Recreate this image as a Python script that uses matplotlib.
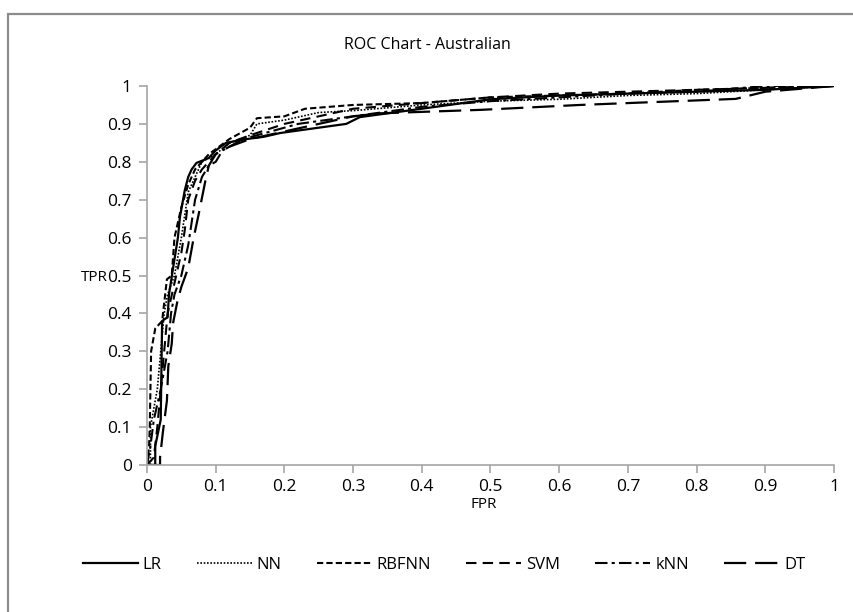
import matplotlib
matplotlib.use("Agg")
import matplotlib.pyplot as plt
from matplotlib.patches import Rectangle

plt.rcParams['font.family'] = ['Open Sans', 'DejaVu Sans']

series_names = ["LR", "NN", "RBFNN", "SVM", "kNN", "DT"]

lr_fpr = [0, 0.012, 0.012, 0.02, 0.022, 0.03, 0.032, 0.038, 0.045, 0.048, 0.055, 0.06, 0.065, 0.072, 0.09, 0.1, 0.115, 0.145, 0.17, 0.194, 0.23, 0.29, 0.31, 0.4, 0.5, 0.6, 0.7, 0.8, 0.9, 1.0]
lr_tpr = [0, 0, 0.05, 0.12, 0.38, 0.39, 0.45, 0.52, 0.6, 0.655, 0.725, 0.76, 0.78, 0.797, 0.81, 0.83, 0.85, 0.86, 0.866, 0.876, 0.885, 0.9, 0.918, 0.94, 0.965, 0.975, 0.98, 0.985, 0.99, 1.0]

nn_fpr = [0, 0.005, 0.005, 0.01, 0.015, 0.02, 0.025, 0.03, 0.04, 0.05, 0.055, 0.06, 0.07, 0.08, 0.1, 0.12, 0.15, 0.16, 0.2, 0.25, 0.3, 0.4, 0.5, 0.6, 0.7, 0.8, 0.9, 1.0]
nn_tpr = [0, 0, 0.1, 0.15, 0.2, 0.3, 0.4, 0.45, 0.5, 0.6, 0.66, 0.72, 0.76, 0.8, 0.82, 0.85, 0.87, 0.9, 0.91, 0.93, 0.935, 0.95, 0.96, 0.965, 0.975, 0.98, 0.99, 1.0]

rbf_fpr = [0, 0.003, 0.004, 0.006, 0.012, 0.022, 0.029, 0.036, 0.04, 0.05, 0.06, 0.07, 0.09, 0.12, 0.15, 0.16, 0.2, 0.23, 0.3, 0.4, 0.5, 0.6, 0.7, 0.8, 0.9, 1.0]
rbf_tpr = [0, 0.05, 0.1, 0.3, 0.36, 0.38, 0.49, 0.5, 0.6, 0.68, 0.74, 0.78, 0.82, 0.86, 0.89, 0.915, 0.92, 0.94, 0.95, 0.955, 0.97, 0.975, 0.98, 0.99, 0.995, 1.0]

svm_fpr = [0, 0.01, 0.015, 0.02, 0.025, 0.03, 0.04, 0.05, 0.055, 0.06, 0.07, 0.08, 0.1, 0.12, 0.15, 0.2, 0.25, 0.3, 0.4, 0.5, 0.6, 0.7, 0.8, 0.9, 1.0]
svm_tpr = [0, 0.02, 0.1, 0.2, 0.3, 0.4, 0.48, 0.56, 0.62, 0.7, 0.75, 0.78, 0.82, 0.85, 0.87, 0.9, 0.92, 0.94, 0.955, 0.97, 0.98, 0.985, 0.99, 0.995, 1.0]

knn_fpr = [0, 0.005, 0.01, 0.02, 0.03, 0.035, 0.04, 0.05, 0.06, 0.065, 0.07, 0.08, 0.09, 0.1, 0.11, 0.14, 0.18, 0.22, 0.3, 0.4, 0.5, 0.6, 0.7, 0.8, 0.9, 1.0]
knn_tpr = [0, 0.05, 0.12, 0.2, 0.3, 0.4, 0.45, 0.5, 0.58, 0.64, 0.7, 0.76, 0.79, 0.8, 0.83, 0.86, 0.88, 0.9, 0.92, 0.945, 0.96, 0.97, 0.98, 0.985, 1.0, 1.0]

dt_fpr = [0, 0.019, 0.019, 0.023, 0.029, 0.031, 0.036, 0.038, 0.044, 0.05, 0.06, 0.068, 0.075, 0.085, 0.09, 0.1, 0.12, 0.15, 0.2, 0.25, 0.3, 0.34, 0.485, 0.63, 0.857, 0.9, 1.0]
dt_tpr = [0, 0, 0.02, 0.085, 0.17, 0.26, 0.32, 0.375, 0.43, 0.47, 0.52, 0.6, 0.66, 0.75, 0.79, 0.82, 0.84, 0.86, 0.88, 0.9, 0.92, 0.928, 0.937, 0.95, 0.966, 0.985, 1.0]

x_ticks = [0, 0.1, 0.2, 0.3, 0.4, 0.5, 0.6, 0.7, 0.8, 0.9, 1]
y_ticks = [0, 0.1, 0.2, 0.3, 0.4, 0.5, 0.6, 0.7, 0.8, 0.9, 1]
tick_labels = ["0", "0.1", "0.2", "0.3", "0.4", "0.5", "0.6", "0.7", "0.8", "0.9", "1"]

styles = [
    dict(linestyle='-', lw=1.6),
    dict(linestyle=(0, (1, 1)), lw=1.2),
    dict(linestyle=(0, (3, 1.5)), lw=1.5),
    dict(linestyle=(0, (5, 3)), lw=1.5),
    dict(linestyle=(0, (6, 2, 1.5, 2)), lw=1.5),
    dict(linestyle=(0, (10, 4)), lw=1.6),
]
data = [(lr_fpr, lr_tpr), (nn_fpr, nn_tpr), (rbf_fpr, rbf_tpr),
        (svm_fpr, svm_tpr), (knn_fpr, knn_tpr), (dt_fpr, dt_tpr)]

fig = plt.figure(figsize=(8.54, 6.12), dpi=100)
ax = fig.add_axes([147/854, 1-465/612, (834-147)/854, (465-86)/612])

handles = []
for name, (xs, ys), st in zip(series_names, data, styles):
    h, = ax.plot(xs, ys, color='black', label=name, **st)
    handles.append(h)

ax.set_xlim(0, 1)
ax.set_ylim(0, 1)
ax.set_xticks(x_ticks)
ax.set_xticklabels(tick_labels)
ax.set_yticks(y_ticks)
ax.set_yticklabels(tick_labels)
for s in ['top', 'right']:
    ax.spines[s].set_visible(False)
for s in ['left', 'bottom']:
    ax.spines[s].set_color('#a6a6a6')
    ax.spines[s].set_linewidth(1.2)
ax.tick_params(axis='both', colors='#a6a6a6', labelcolor='black', length=6, width=1.2, labelsize=12.5)
ax.tick_params(axis='x', pad=4)
ax.tick_params(axis='y', pad=5)

fig.text(484/854, 1-504/612, "FPR", ha='center', va='center', fontsize=11)
fig.text(108/854, 1-278/612, "TPR", ha='right', va='center', fontsize=11)
fig.text(427/854, 1-45/612, "ROC Chart - Australian", ha='center', va='center', fontsize=11.5)

fig.legend(handles=handles, loc='center', bbox_to_anchor=(444/854, 1-565/612), ncol=6,
           frameon=False, handlelength=3.3, handletextpad=0.3, columnspacing=2.1, fontsize=12)

fig.patches.append(Rectangle((8/854, -0.1), 2, (612-14)/612 + 0.1, transform=fig.transFigure,
                             fill=False, edgecolor='#8c8c8c', lw=1.6))

fig.savefig("out.png", dpi=100)
